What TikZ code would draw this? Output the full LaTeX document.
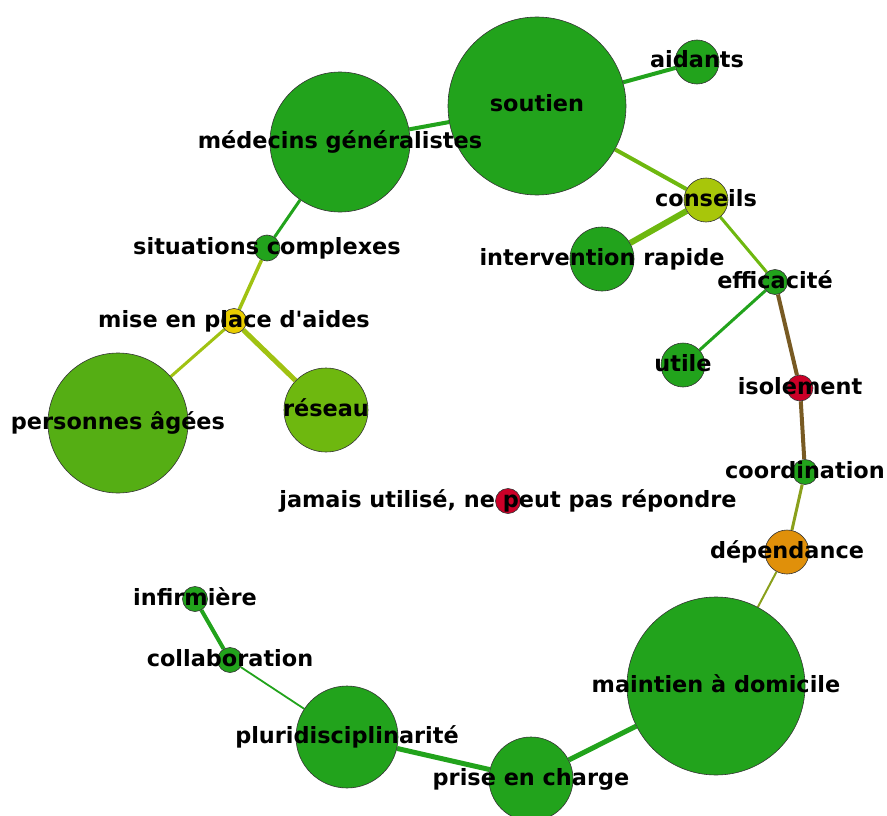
\documentclass[tikz,border=0pt]{standalone}
\usepackage{fontspec}
\setsansfont{DejaVu Sans}
\usetikzlibrary{shapes, calc, positioning, backgrounds}
\definecolor{kwgreen}{RGB}{34,163,28}
\definecolor{kwlime}{RGB}{168,198,10}
\definecolor{kwyellow}{RGB}{232,204,0}
\definecolor{kwmid}{RGB}{85,174,20}
\definecolor{kwlight}{RGB}{110,184,15}
\definecolor{kwred}{RGB}{204,0,40}
\definecolor{kworange}{RGB}{224,144,10}
\definecolor{kwbrown}{RGB}{120,90,35}
\definecolor{kwolive}{RGB}{138,160,28}
\definecolor{kwyg}{RGB}{160,194,18}
\tikzset{term/.style={draw=black!80, circle, line width=0.6pt, inner sep=0pt}}
\tikzset{lbl/.style={font=\sffamily\bfseries\fontsize{22.4}{26}\selectfont, inner sep=0pt, anchor=base}}
\tikzset{gedge/.style={color=kwgreen, line width=4pt}}
\tikzset{ledge/.style={color=kwlight, line width=4pt}}
\tikzset{bedge/.style={color=kwbrown, line width=4pt}}
\tikzset{oedge/.style={color=kwolive, line width=3pt}}
\tikzset{yedge/.style={color=kwyg, line width=3pt}}

\begin{document}
\begin{tikzpicture}[x=1pt, y=-1pt]
        \useasboundingbox (0,0) rectangle (887,816);

        \node[term, fill=kwgreen, minimum size=178pt] (Nsoutien) at (537, 106) {};
        \node[term, fill=kwgreen, minimum size=44pt] (Naidants) at (697, 62) {};
        \node[term, fill=kwgreen, minimum size=140pt] (Nmedecins) at (340, 142) {};
        \node[term, fill=kwlime, minimum size=44pt] (Nconseils) at (706, 200) {};
        \node[term, fill=kwgreen, minimum size=64pt] (Ninterv) at (602, 259) {};
        \node[term, fill=kwgreen, minimum size=25pt] (Nefficacite) at (775, 282) {};
        \node[term, fill=kwgreen, minimum size=44pt] (Nutile) at (683, 365) {};
        \node[term, fill=kwred, minimum size=26pt] (Nisolement) at (800, 388) {};
        \node[term, fill=kwgreen, minimum size=25pt] (Ncoord) at (805, 472) {};
        \node[term, fill=kworange, minimum size=44pt] (Ndependance) at (787, 552) {};
        \node[term, fill=kwgreen, minimum size=178pt] (Nmaintien) at (716, 686) {};
        \node[term, fill=kwgreen, minimum size=84pt] (Nprise) at (531, 779) {};
        \node[term, fill=kwgreen, minimum size=102pt] (Npluri) at (347, 737) {};
        \node[term, fill=kwgreen, minimum size=25pt] (Ncollab) at (230, 660) {};
        \node[term, fill=kwgreen, minimum size=25pt] (Ninfirm) at (195, 599) {};
        \node[term, fill=kwgreen, minimum size=26pt] (Nsituations) at (267, 248) {};
        \node[term, fill=kwyellow, minimum size=25pt] (Nmise) at (234, 321) {};
        \node[term, fill=kwmid, minimum size=140pt] (Npersonnes) at (118, 423) {};
        \node[term, fill=kwlight, minimum size=84pt] (Nreseau) at (326, 410) {};
        \node[term, fill=kwred, minimum size=25pt] (Njamais) at (508, 501) {};

        \begin{scope}[on background layer]
        \draw [gedge] (Nsoutien) -- (Nmedecins);
        \draw [gedge] (Nsoutien) -- (Naidants);
        \draw [ledge] (Nsoutien) -- (Nconseils);
        \draw [ledge, line width=6pt] (Nconseils) -- (Ninterv);
        \draw [ledge, line width=3pt] (Nconseils) -- (Nefficacite);
        \draw [gedge, line width=3pt] (Nefficacite) -- (Nutile);
        \draw [bedge] (Nefficacite) -- (Nisolement);
        \draw [bedge] (Nisolement) -- (Ncoord);
        \draw [oedge] (Ncoord) -- (Ndependance);
        \draw [oedge, line width=2pt] (Ndependance) -- (Nmaintien);
        \draw [gedge, line width=5pt] (Nmaintien) -- (Nprise);
        \draw [gedge, line width=5pt] (Nprise) -- (Npluri);
        \draw [gedge, line width=1.8pt] (Npluri) -- (Ncollab);
        \draw [gedge] (Ncollab) -- (Ninfirm);
        \draw [gedge, line width=3pt] (Nmedecins) -- (Nsituations);
        \draw [yedge, line width=3.5pt] (Nsituations) -- (Nmise);
        \draw [yedge] (Nmise) -- (Npersonnes);
        \draw [yedge, line width=5pt] (Nmise) -- (Nreseau);
        \end{scope}

        \node[lbl] (Lsoutien) at ([yshift=-6pt]Nsoutien.center) {soutien};
        \node[lbl] (Laidants) at ([yshift=-6pt]Naidants.center) {aidants};
        \node[lbl] (Lmedecins) at ([yshift=-6pt]Nmedecins.center) {médecins généralistes};
        \node[lbl] (Lconseils) at ([yshift=-6pt]Nconseils.center) {conseils};
        \node[lbl] (Linterv) at ([yshift=-6pt]Ninterv.center) {intervention rapide};
        \node[lbl] (Lefficacite) at ([yshift=-6pt]Nefficacite.center) {efficacité};
        \node[lbl] (Lutile) at ([yshift=-6pt]Nutile.center) {utile};
        \node[lbl] (Lisolement) at ([yshift=-6pt]Nisolement.center) {isolement};
        \node[lbl] (Lcoord) at ([yshift=-6pt]Ncoord.center) {coordination};
        \node[lbl] (Ldependance) at ([yshift=-6pt]Ndependance.center) {dépendance};
        \node[lbl] (Lmaintien) at ([yshift=-6pt]Nmaintien.center) {maintien à domicile};
        \node[lbl] (Lprise) at ([yshift=-6pt]Nprise.center) {prise en charge};
        \node[lbl] (Lpluri) at ([yshift=-6pt]Npluri.center) {pluridisciplinarité};
        \node[lbl] (Lcollab) at ([yshift=-6pt]Ncollab.center) {collaboration};
        \node[lbl] (Linfirm) at ([yshift=-6pt]Ninfirm.center) {infirmière};
        \node[lbl] (Lsituations) at ([yshift=-6pt]Nsituations.center) {situations complexes};
        \node[lbl] (Lmise) at ([yshift=-6pt]Nmise.center) {mise en place d\textquotesingle aides};
        \node[lbl] (Lpersonnes) at ([yshift=-6pt]Npersonnes.center) {personnes âgées};
        \node[lbl] (Lreseau) at ([yshift=-6pt]Nreseau.center) {réseau};
        \node[lbl] (Ljamais) at ([yshift=-6pt]Njamais.center) {jamais utilisé, ne peut pas répondre};
    \end{tikzpicture}
\end{document}
